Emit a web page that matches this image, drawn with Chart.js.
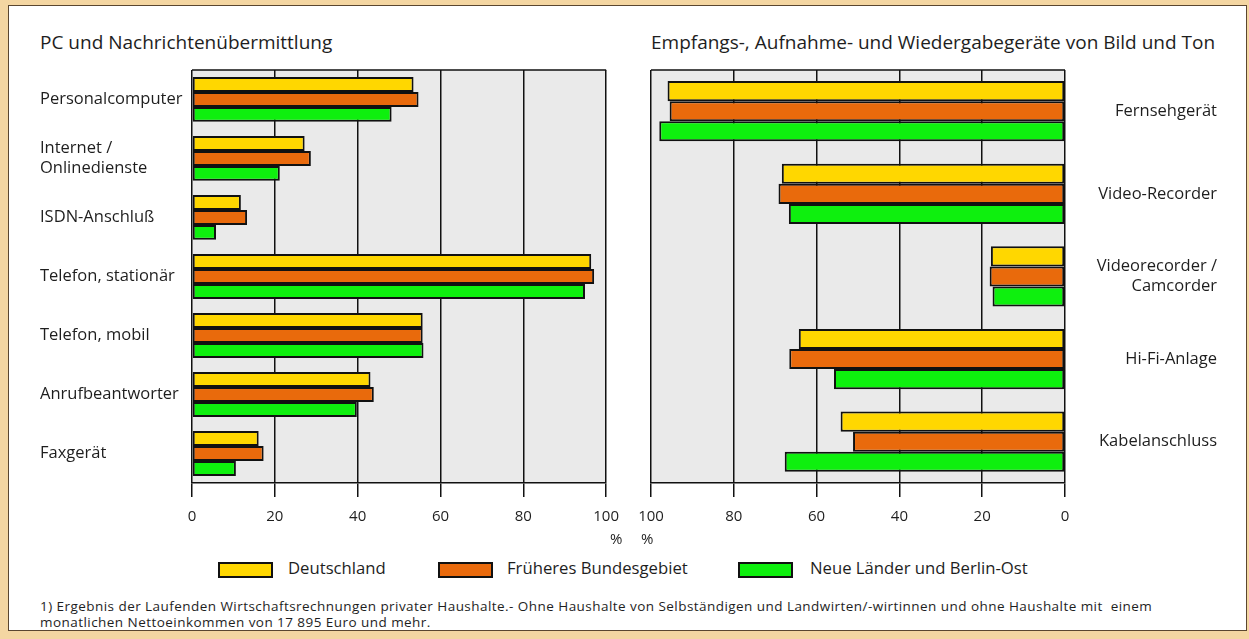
<!DOCTYPE html>
<html><head><meta charset="utf-8">
<script src="https://cdn.jsdelivr.net/npm/chart.js@4"></script>
<style>
body{margin:0;width:1249px;height:639px;background:#F4D6A2;position:relative;overflow:hidden;font-family:'Open Sans',sans-serif;color:#1e1e1e}
#panel{position:absolute;left:8px;top:5px;width:1237px;height:624px;background:#fff;border:1px solid #5a4630}
.t{position:absolute;font-size:19px;white-space:nowrap;line-height:22px}
.w{position:absolute}
.pct{position:absolute;font-size:15px;line-height:18px;top:529px}
.lg{position:absolute;top:562px;width:51px;height:12px;border:2px solid #111}
.lt{position:absolute;top:558px;font-size:16.7px;line-height:20px;white-space:nowrap}
#foot{position:absolute;left:40px;top:598px;font-size:13.5px;letter-spacing:0.45px;line-height:16px;white-space:nowrap}
</style></head><body>
<div id="panel"></div>
<div class="t" style="left:40px;top:31px">PC und Nachrichtenübermittlung</div>
<div class="t" style="left:651px;top:31px">Empfangs-, Aufnahme- und Wiedergabegeräte von Bild und Ton</div>
<div class="w" style="left:40px;top:60px;width:590px;height:480px"><canvas id="c1"></canvas></div>
<div class="w" style="left:620px;top:60px;width:597px;height:480px"><canvas id="c2"></canvas></div>
<div class="pct" style="left:610px">%</div>
<div class="pct" style="left:641px">%</div>
<div class="lg" style="left:218px;background:#FFD700"></div><div class="lt" style="left:288px">Deutschland</div>
<div class="lg" style="left:438px;background:#E96A0C"></div><div class="lt" style="left:507px">Früheres Bundesgebiet</div>
<div class="lg" style="left:738px;background:#0EF00E"></div><div class="lt" style="left:810px">Neue Länder und Berlin-Ost</div>
<div id="foot">1) Ergebnis der Laufenden Wirtschaftsrechnungen privater Haushalte.- Ohne Haushalte von Selbständigen und Landwirten/-wirtinnen und ohne Haushalte mit&nbsp; einem<br>monatlichen Nettoeinkommen von 17 895 Euro und mehr.</div>
<script>
const seriesNames = ['Deutschland', 'Früheres Bundesgebiet', 'Neue Länder und Berlin-Ost'];
const seriesColors = ['#FFD700', '#E96A0C', '#0EF00E'];

const pcCategories = ['Personalcomputer', ['Internet /', 'Onlinedienste'], 'ISDN-Anschluß', 'Telefon, stationär', 'Telefon, mobil', 'Anrufbeantworter', 'Faxgerät'];
const pcDeutschland = [53.5, 27.2, 11.8, 96.4, 55.7, 43.1, 16.1];
const pcFrueheres   = [54.7, 28.7, 13.3, 97.1, 55.7, 43.9, 17.3];
const pcNeue        = [48.2, 21.2, 5.8, 94.9, 55.9, 39.8, 10.6];

const avCategories = ['Fernsehgerät', 'Video-Recorder', ['Videorecorder /', 'Camcorder'], 'Hi-Fi-Anlage', 'Kabelanschluss'];
const avDeutschland = [96.0, 68.4, 17.9, 64.3, 54.2];
const avFrueheres   = [95.5, 69.2, 18.2, 66.6, 51.2];
const avNeue        = [98.0, 66.7, 17.5, 55.8, 67.7];

const xTicks = [0, 20, 40, 60, 80, 100];

const frame = {
  id: 'frame',
  beforeDraw(chart) {
    const {ctx, chartArea: a} = chart;
    ctx.save();
    ctx.fillStyle = '#EAEAEA';
    ctx.fillRect(a.left, a.top, a.right - a.left, a.bottom - a.top);
    ctx.strokeStyle = '#111';
    ctx.lineWidth = 1.5;
    ctx.beginPath();
    ctx.moveTo(a.left, a.top); ctx.lineTo(a.right, a.top);
    ctx.stroke();
    ctx.restore();
  }
};

function makeChart(id, cats, vals, opts) {
  return new Chart(document.getElementById(id), {
    type: 'bar',
    data: {
      labels: cats,
      datasets: vals.map((v, i) => ({
        label: seriesNames[i], data: v, backgroundColor: seriesColors[i],
        borderColor: '#111', borderWidth: 2, borderSkipped: false,
        categoryPercentage: opts.cp, barPercentage: 1
      }))
    },
    options: {
      indexAxis: 'y', responsive: true, maintainAspectRatio: false, animation: false,
      layout: {padding: opts.pad},
      plugins: {legend: {display: false}, tooltip: {enabled: false}},
      scales: {
        x: {
          min: 0, max: 100, reverse: opts.reverse,
          afterBuildTicks: s => { s.ticks = xTicks.map(v => ({value: v})); },
          afterFit: s => { s.height = 57; },
          grid: {color: '#111', lineWidth: 1.5, drawTicks: true, tickLength: 14, tickColor: '#111'},
          border: {display: true, color: '#111', width: 1.5},
          ticks: {font: {family: 'Open Sans', size: 15}, color: '#1e1e1e', padding: 11, maxRotation: 0}
        },
        y: {
          position: opts.ypos,
          afterFit: s => { s.width = 152; },
          grid: {display: false}, border: {display: false},
          ticks: {crossAlign: 'far', font: {family: 'Open Sans', size: 16.5}, color: '#1e1e1e', padding: 0}
        }
      }
    },
    plugins: [frame]
  });
}

makeChart('c1', pcCategories, [pcDeutschland, pcFrueheres, pcNeue], {cp: 0.76, pad: {top: 7, right: 23, left: 0, bottom: 0}, reverse: false, ypos: 'left'});
makeChart('c2', avCategories, [avDeutschland, avFrueheres, avNeue], {cp: 0.73, pad: {top: 7, right: 0, left: 31, bottom: 0}, reverse: true, ypos: 'right'});
</script>
</body></html>
